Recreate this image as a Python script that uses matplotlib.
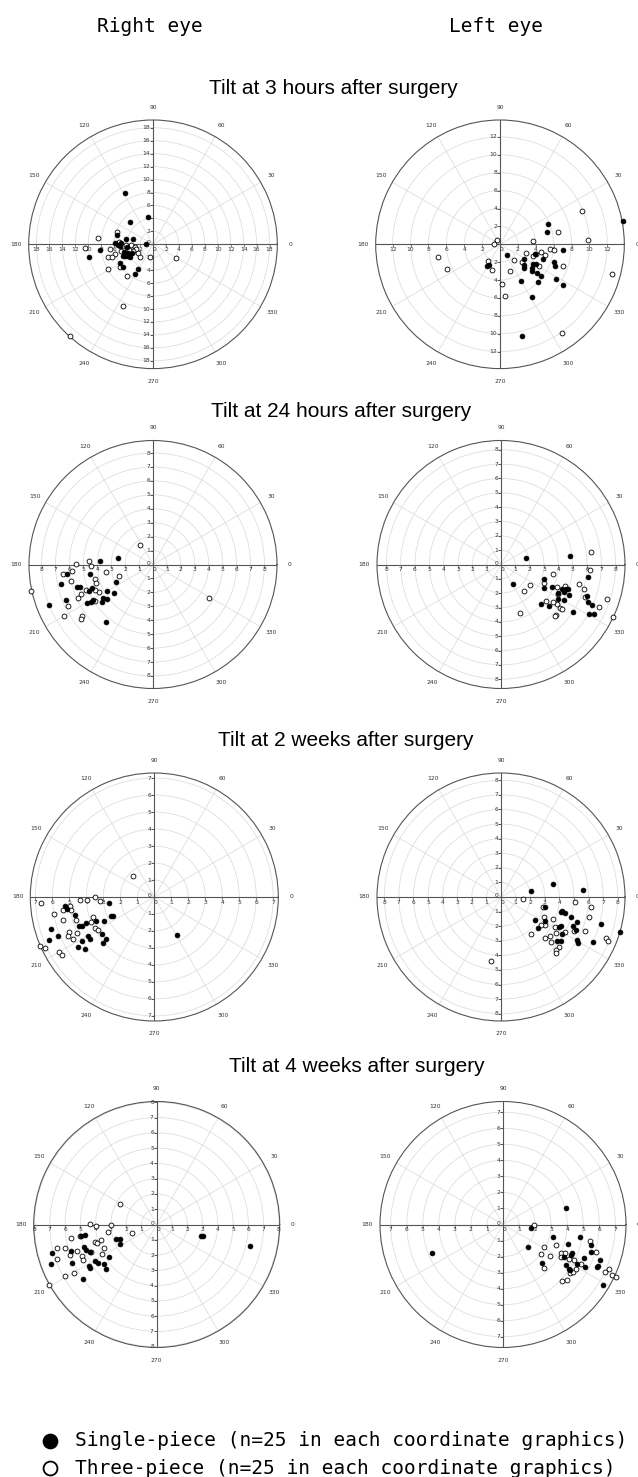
import numpy as np
import matplotlib
matplotlib.use("Agg")
import matplotlib.pyplot as plt
from matplotlib.lines import Line2D

W, H = 638, 1477

# ---- data: tilt vectors (x, y components) ----
# Right eye, 3 hours
r3h_single_x = [-4.37, -0.77, -3.5, -1.08, -5.56, -4.17, -3.14, -5.8, -5.45, -5.09, -4.0, -8.18, -9.93,
                -4.68, -4.32, -3.9, -3.6, -5.04, -4.68, -2.31, -2.83, -3.8, -3.29, -4.94, -4.42]
r3h_single_y = [7.92, 4.27, 3.5, 0.0, 1.44, 0.77, 0.77, 0.26, -0.1, -0.26, -0.36, -0.87, -1.9,
                -1.75, -1.75, -1.75, -2.0, -2.88, -3.45, -3.86, -4.58, -1.39, -1.29, 0.26, -1.13]
r3h_three_x = [-8.54, -10.49, -5.61, -5.2, -6.69, -5.92, -6.94, -6.33, -7.0, -5.14, -4.01, -4.68, -12.86,
               3.6, -3.34, -2.83, -2.57, -3.14, -3.76, -4.63, -4.94, -2.37, -0.51, -1.95, -4.12]
r3h_three_y = [0.93, -0.51, 1.9, 0.41, -0.77, -1.49, -2.0, -2.0, -3.81, -3.45, -4.89, -9.57, -14.15,
               -2.06, -0.15, -0.36, -0.77, -0.98, -0.87, -0.87, -1.08, -1.39, -1.9, -1.9, -0.15]

# Left eye, 3 hours
l3h_single_x = [13.72, 5.35, 5.31, 0.82, 7.03, 3.93, 2.73, 2.69, 2.69, 3.66, 3.55, 3.55, 4.82, 6.06,
                6.17, 4.07, 4.11, 4.64, 6.24, 4.3, 2.39, 7.1, 3.55, 2.47, -1.5, -1.23]
l3h_single_y = [2.65, 2.24, 1.42, -1.2, -0.6, -1.05, -1.61, -2.32, -2.65, -2.17, -2.62, -2.99, -1.61, -1.94,
                -2.47, -2.24, -3.25, -3.59, -3.89, -4.26, -4.11, -4.56, -5.87, -10.28, -2.39, -2.36]
l3h_three_x = [9.2, 9.79, 6.54, 3.66, -0.37, -0.67, 2.92, 4.0, 4.6, 5.05, 5.64, 6.06, 7.1, 12.49,
               6.95, 1.61, 2.5, 3.7, 4.37, 1.16, 0.19, 0.56, -0.86, -1.31, -6.92, -5.94]
l3h_three_y = [3.7, 0.52, 1.38, 0.34, 0.49, 0.04, -0.93, -1.08, -0.9, -1.23, -0.49, -0.64, -2.43, -3.33,
               -9.87, -1.79, -1.98, -1.35, -2.39, -3.03, -4.49, -5.79, -2.88, -1.91, -1.46, -2.8]

# Right eye, 24 hours
r24h_single_x = [-2.48, -3.8, -6.15, -6.59, -5.48, -5.24, -4.52, -4.4, -4.59, -2.64, -3.32, -2.81,
                 -3.61, -3.32, -3.65, -4.28, -4.47, -4.71, -6.23, -7.48, -3.34]
r24h_single_y = [0.46, 0.26, -0.65, -1.39, -1.59, -1.63, -0.65, -1.68, -1.9, -1.25, -1.88, -2.07,
                 -2.4, -2.48, -2.67, -2.52, -2.72, -2.76, -2.52, -2.88, -4.13]
r24h_three_x = [-0.96, -4.59, -4.47, -5.5, -3.37, -2.45, -5.79, -6.44, -5.91, -4.16, -4.06, -3.85,
                -4.13, -4.81, -5.17, -5.41, -4.16, -6.11, -6.42, -5.1, -5.19, -8.73, 3.99]
r24h_three_y = [1.39, 0.22, -0.1, 0.07, -0.55, -0.82, -0.5, -0.67, -1.15, -1.06, -1.32, -1.97,
                -1.8, -1.8, -2.09, -2.4, -2.62, -3.0, -3.73, -3.73, -3.94, -1.88, -2.4]

# Left eye, 24 hours
l24h_single_x = [1.75, 4.78, 0.86, 3.03, 3.03, 3.59, 4.29, 4.5, 4.64, 4.41, 4.73, 3.99, 4.38, 2.82,
                 3.38, 5.03, 6.06, 6.01, 6.08, 6.32, 6.13, 6.46, 3.99]
l24h_single_y = [0.42, 0.58, -1.35, -1.03, -1.61, -1.54, -1.7, -1.72, -1.72, -1.89, -2.1, -2.4, -2.45,
                 -2.75, -2.87, -3.29, -0.86, -2.21, -2.61, -2.84, -3.43, -3.47, -1.98]
l24h_three_x = [6.25, 6.2, 3.64, 2.05, 1.61, 1.35, 3.03, 3.92, 4.43, 3.99, 3.92, 4.1, 4.29, 3.87,
                3.8, 3.15, 3.66, 5.45, 5.78, 5.83, 6.85, 7.37, 7.83]
l24h_three_y = [0.86, -0.35, -0.65, -1.4, -1.82, -3.36, -1.28, -1.56, -1.47, -2.03, -2.77, -3.01, -3.12,
                -3.5, -3.61, -2.54, -2.59, -1.35, -1.68, -2.26, -2.94, -2.4, -3.66]

# Right eye, 2 weeks
r2w_single_x = [-2.66, -5.27, -5.11, -4.65, -2.52, -2.41, -3.43, -2.96, -4.02, -4.28, -4.42, -6.09,
                -3.1, -3.91, -3.77, -2.86, -3.02, -5.64, -6.21, -4.26, -4.52, -4.06, 1.32]
r2w_single_y = [-0.34, -0.55, -0.71, -1.07, -1.12, -1.12, -1.4, -1.4, -1.54, -1.68, -1.72, -1.87,
                -2.15, -2.31, -2.47, -2.49, -2.68, -2.31, -2.52, -2.58, -2.96, -3.08, -2.25]
r2w_three_x = [-1.26, -3.47, -3.18, -3.98, -4.38, -4.97, -5.36, -6.69, -5.92, -5.35, -4.62, -3.59,
               -3.71, -3.51, -3.31, -5.01, -4.54, -4.77, -5.11, -6.71, -6.43, -5.6, -5.42, -4.93]
r2w_three_y = [1.24, 0.02, -0.24, -0.16, -0.16, -0.51, -0.79, -0.36, -1.03, -1.36, -1.34, -1.2,
               -1.46, -1.81, -1.95, -2.05, -2.13, -2.47, -2.27, -2.88, -3.0, -3.25, -3.39, -0.79]

# Left eye, 2 weeks
l2w_single_x = [2.07, 3.56, 5.61, 3.03, 4.21, 4.37, 4.14, 2.3, 2.53, 3.01, 4.8, 5.24, 4.94, 5.17,
                4.14, 4.0, 4.18, 3.86, 4.11, 5.22, 5.31, 6.3, 6.85, 8.18]
l2w_single_y = [0.39, 0.9, 0.48, -0.67, -0.97, -1.1, -1.03, -1.56, -2.14, -1.63, -1.38, -1.7, -1.98, -2.23,
                -1.98, -2.07, -2.53, -2.99, -2.99, -2.92, -3.17, -3.06, -1.84, -2.37]
l2w_three_x = [1.49, 5.1, 6.18, 2.87, 2.97, 3.01, 3.59, 2.71, 3.68, 2.07, 2.99, 3.38, 3.77, 3.4,
               3.98, 3.79, 3.79, 4.99, 5.75, 6.05, 4.37, 7.2, 7.31, -0.71]
l2w_three_y = [-0.14, -0.37, -0.67, -0.71, -1.4, -1.95, -1.54, -1.91, -2.07, -2.57, -2.8, -2.69, -2.46, -3.08,
               -3.4, -3.61, -3.84, -2.32, -2.32, -1.4, -2.39, -2.78, -2.99, -4.37]

# Right eye, 4 weeks
r4w_single_x = [-4.94, -4.72, -2.65, -2.41, -2.37, 2.92, 3.05, 6.1, -4.78, -4.63, -4.36, -5.61,
                -6.86, -6.95, -5.55, -4.01, -3.86, -4.45, -4.36, -3.42, -3.31, -3.14, -4.85]
r4w_single_y = [-0.75, -0.7, -0.94, -0.92, -1.27, -0.75, -0.75, -1.43, -1.47, -1.67, -1.82, -1.73,
                -1.86, -2.57, -2.5, -2.39, -2.52, -2.7, -2.83, -2.61, -2.94, -2.15, -3.55]
r4w_three_x = [-2.43, -4.39, -3.95, -2.96, -3.18, -3.64, -4.01, -3.88, -5.0, -5.63, -1.6, -4.32,
               -3.46, -3.6, -6.54, -6.0, -5.22, -5.68, -4.89, -4.8, -6.51, -5.44, -6.0, -7.06]
r4w_three_y = [1.34, 0.04, -0.13, -0.02, -0.46, -1.03, -1.12, -1.23, -0.75, -0.9, -0.55, -1.82,
               -1.56, -1.93, -1.51, -1.51, -1.71, -2.0, -2.06, -2.3, -2.28, -3.18, -3.38, -3.97]

# Left eye, 4 weeks
l4w_single_x = [3.9, 1.77, 3.13, 4.78, 1.54, 4.05, 4.3, 4.26, 2.46, 3.78, 3.92, 4.09, 4.18, 4.63,
                5.03, 5.11, 5.51, 5.47, 6.05, 5.95, 5.85, 6.22, -4.41]
l4w_single_y = [1.0, -0.19, -0.75, -0.79, -1.4, -1.23, -1.75, -1.88, -2.4, -2.05, -2.55, -2.76, -2.84, -2.48,
                -2.09, -2.63, -1.27, -1.71, -2.21, -2.61, -2.65, -3.76, -1.8]
l4w_three_x = [1.92, 2.57, 2.4, 2.9, 3.32, 2.55, 3.61, 3.84, 4.13, 4.43, 3.63, 3.65, 3.97, 4.15,
               4.36, 4.55, 4.89, 5.45, 5.8, 6.33, 6.58, 6.79, 7.04]
l4w_three_y = [-0.02, -1.42, -1.84, -1.98, -1.27, -2.73, -1.77, -1.8, -2.17, -2.21, -2.05, -3.51, -3.44, -3.05,
               -2.94, -2.76, -2.46, -1.06, -1.69, -2.94, -2.8, -3.17, -3.3]

row_titles = ["Tilt at 3 hours after surgery", "Tilt at 24 hours after surgery",
              "Tilt at 2 weeks after surgery", "Tilt at 4 weeks after surgery"]
angle_labels = [str(a) for a in range(0, 360, 30)]

# panel layout: centre (px), radius (px), outer radius in data units, ring step, ring max
panels = [
    dict(c=(153, 244.3), R=124.3, rmax=19.2, step=2, top=18,
         s=(r3h_single_x, r3h_single_y), t=(r3h_three_x, r3h_three_y)),
    dict(c=(500, 244.3), R=124.3, rmax=13.9, step=2, top=12,
         s=(l3h_single_x, l3h_single_y), t=(l3h_three_x, l3h_three_y)),
    dict(c=(153, 564.5), R=124, rmax=8.9, step=1, top=8,
         s=(r24h_single_x, r24h_single_y), t=(r24h_three_x, r24h_three_y)),
    dict(c=(501, 564.5), R=124, rmax=8.65, step=1, top=8,
         s=(l24h_single_x, l24h_single_y), t=(l24h_three_x, l24h_three_y)),
    dict(c=(154.3, 897), R=124, rmax=7.3, step=1, top=7,
         s=(r2w_single_x, r2w_single_y), t=(r2w_three_x, r2w_three_y)),
    dict(c=(501, 897), R=124, rmax=8.5, step=1, top=8,
         s=(l2w_single_x, l2w_single_y), t=(l2w_three_x, l2w_three_y)),
    dict(c=(156.7, 1224.5), R=123, rmax=8.05, step=1, top=8,
         s=(r4w_single_x, r4w_single_y), t=(r4w_three_x, r4w_three_y)),
    dict(c=(503, 1224.5), R=123, rmax=7.67, step=1, top=7,
         s=(l4w_single_x, l4w_single_y), t=(l4w_three_x, l4w_three_y)),
]

AX_COL = "#555555"
LBL_COL = "#333333"
LBL_FS = 4.3

fig = plt.figure(figsize=(W / 100, H / 100), dpi=100)
fig.patch.set_facecolor("white")


def fx(x):
    return x / W


def fy(y):
    return 1 - y / H


def to_polar(xs, ys):
    xs = np.asarray(xs)
    ys = np.asarray(ys)
    return np.arctan2(ys, xs), np.hypot(xs, ys)


for p in panels:
    cx, cy = p["c"]
    R = p["R"]
    ax = fig.add_axes([fx(cx - R), fy(cy + R), 2 * R / W, 2 * R / H], projection="polar")
    rmax = p["rmax"]
    ticks = np.arange(p["step"], p["top"] + 0.01, p["step"])

    ax.set_rlim(0, rmax)
    ax.set_rticks(ticks)
    ax.set_yticklabels([])
    ax.set_thetagrids(np.arange(0, 360, 30), angle_labels)
    ax.tick_params(axis="x", labelsize=LBL_FS, labelcolor=LBL_COL, pad=0.6,
                   direction="out", length=1.6, width=0.5, color=AX_COL)
    ax.grid(color="#dcdcdc", linewidth=0.55)
    ax.spines["polar"].set_color(AX_COL)
    ax.spines["polar"].set_linewidth(0.8)

    # cross axes through the centre
    for th in (0, np.pi / 2, np.pi, 3 * np.pi / 2):
        ax.plot([th, th], [0, rmax], color=AX_COL, lw=0.8, zorder=2)

    # radial tick marks and labels along the cross
    vals = list(ticks)
    ax.plot(np.full(len(vals), np.pi / 2), vals, ls="none", marker=0, ms=2, mew=0.5, color=AX_COL, zorder=2)
    ax.plot(np.full(len(vals), 3 * np.pi / 2), vals, ls="none", marker=0, ms=2, mew=0.5, color=AX_COL, zorder=2)
    ax.plot(np.zeros(len(vals)), vals, ls="none", marker=3, ms=2, mew=0.5, color=AX_COL, zorder=2)
    ax.plot(np.full(len(vals), np.pi), vals, ls="none", marker=3, ms=2, mew=0.5, color=AX_COL, zorder=2)
    lbl = dict(fontsize=LBL_FS, color=LBL_COL, textcoords="offset points", zorder=3)
    for v in vals:
        s = "%d" % v
        ax.annotate(s, xy=(np.pi / 2, v), xytext=(-2, 0), ha="right", va="center", **lbl)
        ax.annotate(s, xy=(3 * np.pi / 2, v), xytext=(-2, 0), ha="right", va="center", **lbl)
        ax.annotate(s, xy=(0, v), xytext=(0, -2), ha="center", va="top", **lbl)
        ax.annotate(s, xy=(np.pi, v), xytext=(0, -2), ha="center", va="top", **lbl)
    ax.annotate("0", xy=(0, 0), xytext=(-2, 1), ha="right", va="center", **lbl)
    ax.annotate("0", xy=(0, 0), xytext=(1, -2), ha="center", va="top", **lbl)

    th_t, r_t = to_polar(*p["t"])
    th_s, r_s = to_polar(*p["s"])
    ax.plot(th_t, r_t, ls="none", marker="o", ms=3.5, mfc="white", mec="black", mew=0.6,
            zorder=4, clip_on=False)
    ax.plot(th_s, r_s, ls="none", marker="o", ms=3.5, mfc="black", mec="black", mew=0.5,
            zorder=5, clip_on=False)

# column headers
mono = "DejaVu Sans Mono"
fig.text(fx(97), fy(31.7), "Right eye", family=mono, fontsize=14, ha="left", va="baseline")
fig.text(fx(449), fy(31.7), "Left eye", family=mono, fontsize=14, ha="left", va="baseline")

# row titles
title_pos = [(209, 94.3), (211, 417.3), (218, 745.7), (229, 1071.7)]
for (tx, ty), t in zip(title_pos, row_titles):
    fig.text(fx(tx), fy(ty), t, family="Liberation Sans", fontsize=15, ha="left", va="baseline")

# legend
leg_rows = [(1441, "black", "Single-piece (n=25 in each coordinate graphics)"),
            (1468, "white", "Three-piece (n=25 in each coordinate graphics)")]
for ly, face, txt in leg_rows:
    fig.add_artist(Line2D([fx(50)], [fy(ly)], transform=fig.transFigure, ls="none", marker="o",
                          ms=10, mfc=face, mec="black", mew=1.3))
    fig.text(fx(75), fy(ly), txt, family=mono, fontsize=14, ha="left", va="center")

fig.savefig("out.png", dpi=100, facecolor="white")
